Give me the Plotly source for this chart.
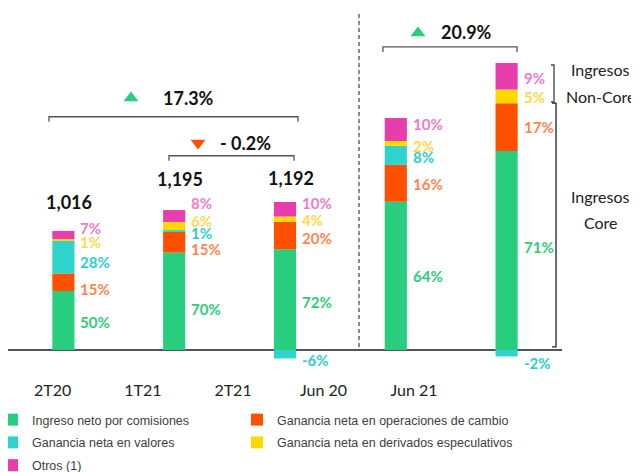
import plotly.graph_objects as go

# ---------------- data (millions) ----------------
categories = ["2T20", "1T21", "2T21", "Jun 20", "Jun 21"]
comisiones = [504, 832, 860, 1266, 1700]
cambio = [150, 179, 235, 315, 407]
valores = [280, 12, -72, 162, -55]
derivados = [13, 70, 45, 42, 117]
otros = [70, 102, 124, 196, 227]

pct_comisiones = ["50%", "70%", "72%", "64%", "71%"]
pct_cambio = ["15%", "15%", "20%", "16%", "17%"]
pct_valores = ["28%", "1%", "-6%", "8%", "-2%"]
pct_derivados = ["1%", "6%", "4%", "2%", "5%"]
pct_otros = ["7%", "8%", "10%", "10%", "9%"]

total_labels = ["1,016", "1,195", "1,192", "", ""]

growth_labels = ["17.3%", "- 0.2%", "20.9%"]

series_names = [
    "Ingreso neto por comisiones",
    "Ganancia neta en operaciones de cambio",
    "Ganancia neta en valores",
    "Ganancia neta en derivados especulativos",
    "Otros (1)",
]
legend_column = ["legend", "legend2", "legend", "legend2", "legend"]

# ---------------- style ----------------
BAR_COLORS = ["#28CE7D", "#FF5000", "#2ED3CC", "#FFD800", "#E83EAD"]
LBL_COLORS = ["#2ECC7A", "#FF8452", "#2CCFCB", "#FFD84A", "#F07CC6"]
LBL_FONT = "Lato"
BAR_W = 0.2
PLOT_W, PLOT_H = 554, 364

series_vals = [comisiones, cambio, valores, derivados, otros]
series_pcts = [pct_comisiones, pct_cambio, pct_valores, pct_derivados, pct_otros]
# pixel nudges for the labels (per series, per bar)
label_shift = [
    [-2, -8, -2, 0, 3],
    [-7, -7, -2, -1, 0],
    [-5, -2, -6, -2, -10],
    [-2, 5, -1, -3, -1],
    [7, 13, 6, 6, -2],
]

x = list(range(len(categories)))
fig = go.Figure()
for name, vals, col, lg in zip(series_names, series_vals, BAR_COLORS, legend_column):
    fig.add_trace(go.Bar(
        x=x, y=vals, name=name, width=BAR_W, legend=lg, legendgroup=name,
        marker=dict(color=col, line=dict(width=0)),
        hoverinfo="skip",
    ))

annotations = []
# segment labels at the middle of each stacked segment
pos_base = [0] * len(x)
neg_base = [0] * len(x)
for s, (vals, pcts) in enumerate(zip(series_vals, series_pcts)):
    for i, v in enumerate(vals):
        if v >= 0:
            mid = pos_base[i] + v / 2
            pos_base[i] += v
        else:
            mid = neg_base[i] + v / 2
            neg_base[i] += v
        annotations.append(dict(
            x=i + BAR_W / 2, y=mid, xanchor="left", yanchor="middle",
            xshift=4, yshift=label_shift[s][i], text=pcts[i], showarrow=False,
            font=dict(family=LBL_FONT, size=15, color=LBL_COLORS[s], weight="bold"),
        ))

# totals above bars
total_shift = [29, 31, 24, 0, 0]
for i, t in enumerate(total_labels):
    if t:
        annotations.append(dict(
            x=i, y=pos_base[i], xanchor="center", yanchor="middle",
            xshift=6, yshift=total_shift[i], text=t, showarrow=False,
            font=dict(family=LBL_FONT, size=18, color="#111111", weight="bold"),
        ))

# growth brackets
brackets = [  # x0, x1, y, tick depth, label x, label y
    (-0.13, 2.117, 1992, 43, 0.881, 2152),
    (0.953, 2.081, 1659, 43, 1.395, 1768),
    (2.884, 4.094, 2588, 43, 3.39, 2712),
]
tri_pos = [(0.61, 2152, "triangle-up", "#28CE7D"),
           (1.215, 1768, "triangle-down", "#FF5000"),
           (3.2, 2707, "triangle-up", "#28CE7D")]
shapes = []
for (x0, x1, yb, d, lx, ly), lab in zip(brackets, growth_labels):
    shapes.append(dict(type="path", xref="x", yref="y",
                       path=f"M {x0},{yb-d} L {x0},{yb} L {x1},{yb} L {x1},{yb-d}",
                       line=dict(color="#555555", width=1.3)))
    annotations.append(dict(x=lx, y=ly, xanchor="left", yanchor="middle", text=lab,
                            showarrow=False,
                            font=dict(family=LBL_FONT, size=18, color="#111111", weight="bold")))
for tx, ty, sym, col in tri_pos:
    fig.add_trace(go.Scatter(x=[tx], y=[ty], mode="markers", showlegend=False,
                             hoverinfo="skip",
                             marker=dict(symbol=sym, size=13, color=col)))

# divider
shapes.append(dict(type="line", xref="x", yref="y", x0=2.668, x1=2.668, y0=26, y1=2878,
                   line=dict(color="#666666", width=1.5, dash="4px,3px")))
# core / non-core brackets
shapes.append(dict(type="path", xref="x", yref="y",
                   path="M 4.401,2434 L 4.428,2434 L 4.428,2118 L 4.401,2118",
                   line=dict(color="#444444", width=1.3)))
shapes.append(dict(type="path", xref="x", yref="y",
                   path="M 4.41,2109 L 4.446,2109 L 4.446,26 L 4.41,26",
                   line=dict(color="#222222", width=1.3)))
for txt, ypx in [("Ingresos", 62), ("Non-Core", 88), ("Ingresos", 189), ("Core", 214.5)]:
    annotations.append(dict(xref="paper", yref="paper", x=593 / PLOT_W,
                            y=(PLOT_H - ypx) / PLOT_H, xanchor="center", yanchor="middle",
                            text=txt, showarrow=False,
                            font=dict(family=LBL_FONT, size=16, color="#222222")))

TICK_POS = [-0.098, 0.718, 1.531, 2.347, 3.164]
LEG_FONT = dict(family="Liberation Sans", size=12.5, color="#404040")
LEG_TOP = 397

fig.update_layout(
    width=639, height=472, autosize=False,
    margin=dict(l=0, r=639 - PLOT_W, t=0, b=472 - PLOT_H, autoexpand=False),
    paper_bgcolor="white", plot_bgcolor="white",
    barmode="relative",
    showlegend=True,
    legend=dict(orientation="v", x=-16 / PLOT_W, xanchor="left",
                y=(PLOT_H - LEG_TOP) / PLOT_H, yanchor="top",
                traceorder="grouped", tracegroupgap=3.5, font=LEG_FONT,
                itemwidth=30, bgcolor="rgba(0,0,0,0)"),
    legend2=dict(orientation="v", x=229 / PLOT_W, xanchor="left",
                 y=(PLOT_H - LEG_TOP) / PLOT_H, yanchor="top",
                 traceorder="grouped", tracegroupgap=3.5, font=LEG_FONT,
                 itemwidth=30, bgcolor="rgba(0,0,0,0)"),
    xaxis=dict(range=[-0.5, 4.5], tickvals=TICK_POS, ticktext=categories,
               showgrid=False, zeroline=False, showline=False, ticks="",
               ticklabelstandoff=7,
               tickfont=dict(family=LBL_FONT, size=16, color="#222222")),
    yaxis=dict(range=[-187.9, 2920.7], showgrid=False, showticklabels=False,
               zeroline=True, zerolinecolor="#555555", zerolinewidth=1.5, ticks=""),
    shapes=shapes,
    annotations=annotations,
)

fig.write_html("out.html")
